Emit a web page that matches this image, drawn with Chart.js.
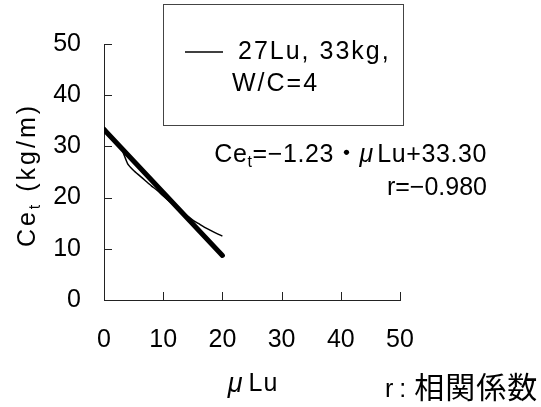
<!DOCTYPE html>
<html>
<head>
<meta charset="utf-8">
<script src="https://cdn.jsdelivr.net/npm/chart.js@4.4.0/dist/chart.umd.min.js"></script>
<style>
  html, body { margin: 0; padding: 0; background: #fff; }
</style>
</head>
<body>
<canvas id="chart" width="541" height="407"></canvas>
<script>
// data
const muLu = [0, 1, 2, 3, 4, 5, 6, 7, 8, 9, 10, 11, 12, 13, 14, 15, 16, 17, 18, 19, 20];
const ceMeasured = [33.8, 32.4, 30.9, 29.4, 26.6, 25.3, 24.3, 23.3, 22.3, 21.4, 20.3, 19.3, 18.4, 17.4, 16.5, 15.6, 14.9, 14.2, 13.6, 13.0, 12.5];
const fitX = [0, 20];
const fitY = [33.30, 8.70];
const xTicks = [0, 10, 20, 30, 40, 50];
const yTicks = [0, 10, 20, 30, 40, 50];

const FONT = '"Liberation Sans", "Noto Sans CJK JP", sans-serif';
const FS = 25;

// text made of parts; each part can be a subscript, italic, bigger, or spaced out
function partFont(p) {
    const size = p.size || (p.sub ? Math.round(FS * 0.62) : FS);
    return (p.italic ? 'italic ' : '') + size + 'px ' + FONT;
}
function partWidth(ctx, p) {
    ctx.font = partFont(p);
    const sp = p.sp || 0;
    let w = 0;
    for (const ch of p.t) w += ctx.measureText(ch).width + sp;
    return w;
}
function drawRich(ctx, parts, x, y, align) {
    let total = 0;
    parts.forEach(p => { total += partWidth(ctx, p); });
    let cx = align === 'right' ? x - total : (align === 'center' ? x - total / 2 : x);
    ctx.textAlign = 'left';
    ctx.textBaseline = 'middle';
    parts.forEach(p => {
        ctx.font = partFont(p);
        const sp = p.sp || 0;
        for (const ch of p.t) {
            ctx.fillText(ch, cx, p.sub ? y + FS * 0.3 : y);
            cx += ctx.measureText(ch).width + sp;
        }
    });
}

const extras = {
    id: 'extras',
    afterDraw(chart) {
        const ctx = chart.ctx;
        const xs = chart.scales.x, ys = chart.scales.y;
        ctx.save();
        // inward tick marks
        ctx.strokeStyle = '#222';
        ctx.lineWidth = 1;
        ctx.beginPath();
        xTicks.forEach(v => {
            const px = Math.round(xs.getPixelForValue(v)) + 0.5;
            ctx.moveTo(px, ys.bottom);
            ctx.lineTo(px, ys.bottom - 8);
        });
        yTicks.forEach(v => {
            const py = Math.round(ys.getPixelForValue(v)) + 0.5;
            ctx.moveTo(xs.left, py);
            ctx.lineTo(xs.left + 8, py);
        });
        ctx.stroke();

        ctx.fillStyle = '#000';
        // legend box
        ctx.strokeStyle = '#444';
        ctx.strokeRect(163.5, 4.5, 240, 121);
        ctx.strokeStyle = '#000';
        ctx.lineWidth = 1.5;
        ctx.beginPath();
        ctx.moveTo(185, 52);
        ctx.lineTo(223, 52);
        ctx.stroke();
        drawRich(ctx, [{ t: '27Lu, 33kg,', sp: 2 }], 238, 52, 'left');
        drawRich(ctx, [{ t: 'W/C=4', sp: 2 }], 232, 84, 'left');

        // regression text
        drawRich(ctx, [
            { t: 'Ce', sp: 0.6 }, { t: 't', sub: true, sp: 0.6 }, { t: '=−1.23・', sp: 0.6 },
            { t: 'μ', italic: true, sp: 4 }, { t: 'Lu+33.30', sp: 0.6 }
        ], 487, 155, 'right');
        drawRich(ctx, [{ t: 'r=−0.980' }], 487, 188, 'right');
        drawRich(ctx, [{ t: 'r', sp: 6 }, { t: ':', sp: 8 }, { t: '相関係数', size: 30, sp: 1 }], 385, 390, 'left');

        // x title
        drawRich(ctx, [{ t: 'μ', italic: true, size: 27, sp: 6 }, { t: 'Lu', sp: 1 }], 253, 384, 'center');

        // y title
        ctx.translate(28, 175);
        ctx.rotate(-Math.PI / 2);
        drawRich(ctx, [{ t: 'Ce', sp: 3 }, { t: 't', sub: true, sp: 3 }, { t: ' (kg/m)', sp: 3 }], 0, 0, 'center');
        ctx.restore();
    }
};

const ctx = document.getElementById('chart').getContext('2d');
const chart = new Chart(ctx, {
    type: 'scatter',
    data: {
        datasets: [{
            label: '27Lu, 33kg, W/C=4',
            data: muLu.map((x, i) => ({ x: x, y: ceMeasured[i] })),
            showLine: true,
            borderColor: '#000',
            borderWidth: 1.5,
            pointRadius: 0,
            tension: 0.2
        }, {
            label: 'fit',
            data: fitX.map((x, i) => ({ x: x, y: fitY[i] })),
            showLine: true,
            borderColor: '#000',
            borderWidth: 5,
            borderCapStyle: 'round',
            pointRadius: 0
        }]
    },
    options: {
        responsive: false,
        animation: false,
        devicePixelRatio: 1,
        layout: { padding: { top: 44, right: 141, left: 0, bottom: 0 } },
        plugins: {
            legend: { display: false },
            tooltip: { enabled: false }
        },
        scales: {
            x: {
                type: 'linear',
                min: 0, max: 50,
                afterFit: s => { s.height = 107; },
                afterBuildTicks: s => { s.ticks = xTicks.map(v => ({ value: v })); },
                grid: { display: false, drawTicks: false },
                border: { display: true, color: '#222', width: 1 },
                ticks: { color: '#000', padding: 25, maxRotation: 0, font: { family: FONT, size: FS } }
            },
            y: {
                type: 'linear',
                min: 0, max: 50,
                afterFit: s => { s.width = 104; },
                afterBuildTicks: s => { s.ticks = yTicks.map(v => ({ value: v })); },
                grid: { display: false, drawTicks: false },
                border: { display: true, color: '#222', width: 1 },
                ticks: { color: '#000', padding: 23, font: { family: FONT, size: FS } }
            }
        }
    },
    plugins: [extras]
});
</script>
</body>
</html>
